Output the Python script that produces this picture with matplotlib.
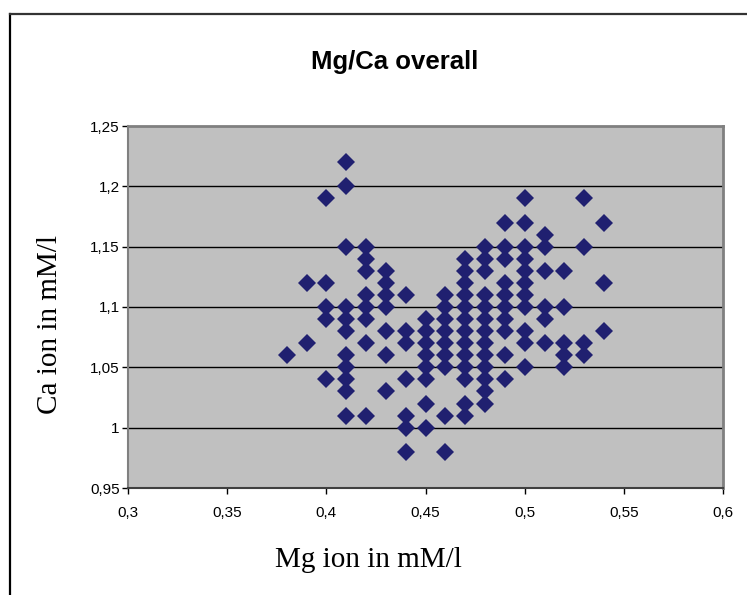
import matplotlib
matplotlib.use("Agg")
import matplotlib.pyplot as plt
from matplotlib.lines import Line2D

# Mg levels (x) and the Ca readings found at each level (y)
mg_levels = [0.38, 0.39, 0.40, 0.41, 0.42, 0.43, 0.44, 0.45, 0.46,
             0.47, 0.48, 0.49, 0.50, 0.51, 0.52, 0.53, 0.54]
ca_038 = [1.06]
ca_039 = [1.12, 1.07]
ca_040 = [1.19, 1.12, 1.10, 1.09, 1.04]
ca_041 = [1.22, 1.20, 1.15, 1.10, 1.09, 1.08, 1.06, 1.05, 1.04, 1.03, 1.01]
ca_042 = [1.15, 1.14, 1.13, 1.11, 1.10, 1.09, 1.07, 1.01]
ca_043 = [1.13, 1.12, 1.11, 1.10, 1.08, 1.06, 1.03]
ca_044 = [1.11, 1.08, 1.07, 1.04, 1.01, 1.00, 0.98]
ca_045 = [1.09, 1.08, 1.07, 1.06, 1.05, 1.04, 1.02, 1.00]
ca_046 = [1.11, 1.10, 1.09, 1.08, 1.07, 1.06, 1.05, 1.01, 0.98]
ca_047 = [1.14, 1.13, 1.12, 1.11, 1.10, 1.09, 1.08, 1.07, 1.06, 1.05, 1.04, 1.02, 1.01]
ca_048 = [1.15, 1.14, 1.13, 1.11, 1.10, 1.09, 1.08, 1.07, 1.06, 1.05, 1.04, 1.03, 1.02]
ca_049 = [1.17, 1.15, 1.14, 1.12, 1.11, 1.10, 1.09, 1.08, 1.06, 1.04]
ca_050 = [1.19, 1.17, 1.15, 1.14, 1.13, 1.12, 1.11, 1.10, 1.08, 1.07, 1.05]
ca_051 = [1.16, 1.15, 1.13, 1.10, 1.09, 1.07]
ca_052 = [1.13, 1.10, 1.07, 1.06, 1.05]
ca_053 = [1.19, 1.15, 1.07, 1.06]
ca_054 = [1.17, 1.12, 1.08]
ca_columns = [ca_038, ca_039, ca_040, ca_041, ca_042, ca_043, ca_044, ca_045, ca_046,
              ca_047, ca_048, ca_049, ca_050, ca_051, ca_052, ca_053, ca_054]

x_ticks = [0.3, 0.35, 0.4, 0.45, 0.5, 0.55, 0.6]
y_ticks = [0.95, 1.0, 1.05, 1.1, 1.15, 1.2, 1.25]

mg = []
ca = []
for m, col in zip(mg_levels, ca_columns):  # flatten columns into point lists
    for c in col:
        mg.append(m)
        ca.append(c)

def comma(v):
    return ("%g" % v).replace(".", ",")

fig = plt.figure(figsize=(7.47, 5.95), dpi=100)
W, H = 747.0, 595.0

# outer chart border (open on right and bottom, as in the reference)
fig.add_artist(Line2D([9.5 / W, 9.5 / W], [0, 1 - 14 / H], color="black", lw=1.6))
fig.add_artist(Line2D([9.5 / W, 1], [1 - 14 / H, 1 - 14 / H], color="#333333", lw=1.6))

ax = fig.add_axes([128 / W, 1 - 488 / H, (723 - 128) / W, (488 - 126) / H])
ax.set_facecolor("#c0c0c0")
ax.set_xlim(0.3, 0.6)
ax.set_ylim(0.95, 1.25)

for y in y_ticks[1:-1]:
    ax.axhline(y, color="black", lw=1.0, zorder=1)

ax.plot(mg, ca, linestyle="none", marker="D", markersize=9.5,
        color="#202070", markeredgewidth=0, zorder=3)

for s in ["top", "right"]:
    ax.spines[s].set_color("#808080")
    ax.spines[s].set_linewidth(2)
ax.spines["left"].set_color("#808080")
ax.spines["left"].set_linewidth(1.5)
ax.spines["bottom"].set_color("#404040")
ax.spines["bottom"].set_linewidth(1.5)

ax.set_xticks(x_ticks)
ax.set_yticks(y_ticks)
ax.set_xticklabels([comma(v) for v in x_ticks], fontsize=11, family="Liberation Sans")
ax.set_yticklabels([comma(v) for v in y_ticks], fontsize=11, family="Liberation Sans")
ax.tick_params(direction="out", length=4, width=1, color="black", pad=9)
ax.tick_params(axis="y", pad=2)

fig.text(395 / W, 1 - 62 / H, "Mg/Ca overall", ha="center", va="center",
         fontsize=18.5, fontweight="bold", family="Liberation Sans")
fig.text(368 / W, 1 - 560 / H, "Mg ion in mM/l", ha="center", va="center",
         fontsize=21, family="Liberation Serif")
fig.text(50 / W, 1 - 325 / H, "Ca ion in mM/l", ha="center", va="center",
         rotation=90, fontsize=21, family="Liberation Serif")

fig.savefig("out.png", dpi=100)
